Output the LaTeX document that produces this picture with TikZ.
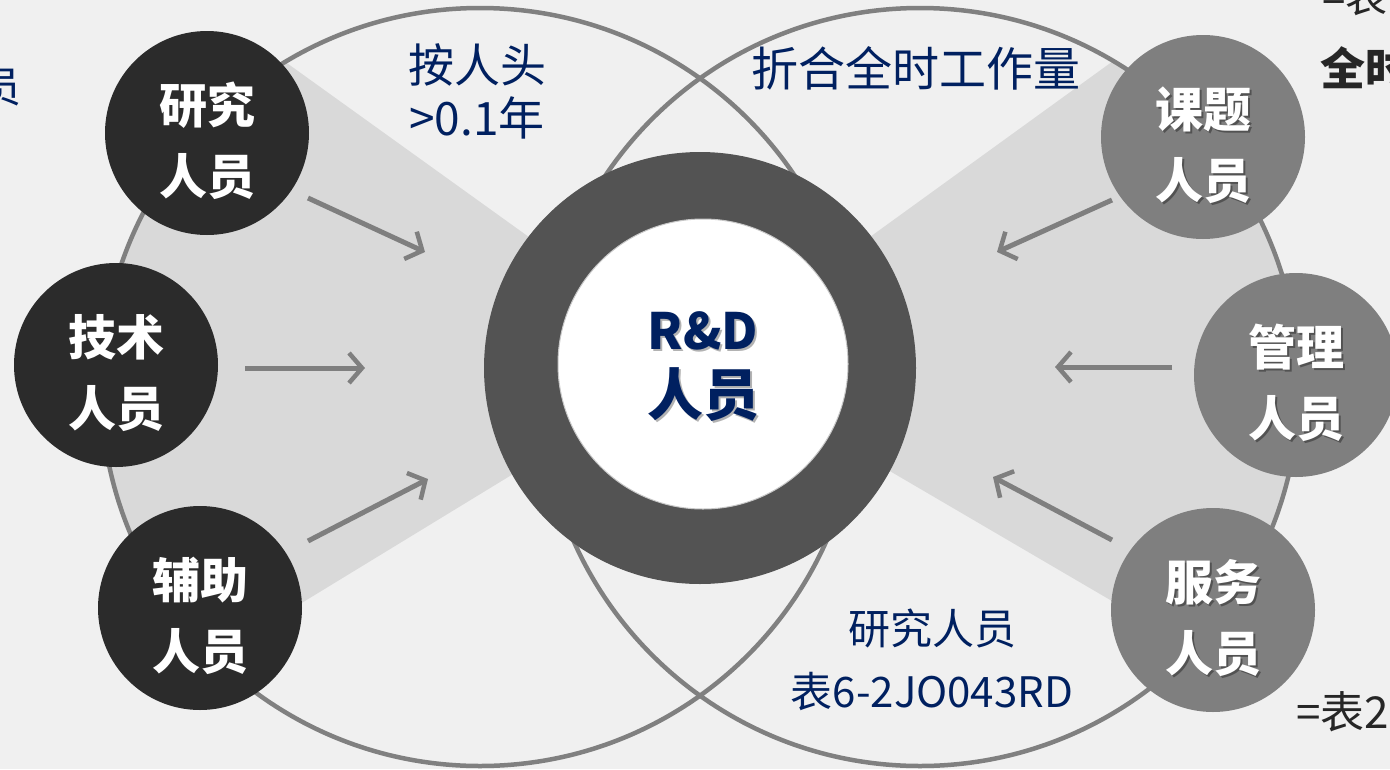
\documentclass[tikz,border=0pt]{standalone}
\usepackage{fontspec}
\newfontfamily\cjk{Noto Sans CJK SC}
\usetikzlibrary{arrows.meta}
\definecolor{bgc}{HTML}{F0F0F0}
\definecolor{wedgec}{HTML}{D9D9D9}
\definecolor{linec}{HTML}{808080}
\definecolor{darkc}{HTML}{2B2B2B}
\definecolor{grayc}{HTML}{7F7F7F}
\definecolor{ringc}{HTML}{535353}
\definecolor{navy}{HTML}{002060}
\definecolor{txtc}{HTML}{262626}
\tikzset{
  bigcirc/.style={draw=linec, line width=4.5pt},
  darkcirc/.style={circle, fill=darkc, minimum size=204pt, inner sep=0pt},
  graycirc/.style={circle, fill=grayc, minimum size=204pt, inner sep=0pt},
  ctext/.style={text=white, font=\cjk\bfseries\fontsize{48}{71}\selectfont, align=center, inner sep=0pt},
  shtext/.style={text=black, opacity=0.35, font=\cjk\bfseries\fontsize{48}{71}\selectfont, align=center, inner sep=0pt},
  arr/.style={draw=grayc, line width=5pt, -{Straight Barb[length=13pt,width=30pt,line width=4.5pt]}},
  lbl/.style={text=navy, inner sep=0pt},
  rdtext/.style={align=center, inner sep=0pt, font=\cjk\bfseries\fontsize{56}{66}\selectfont},
}
\begin{document}
\begin{tikzpicture}[x=1pt,y=-1pt]
\useasboundingbox (0,0) rectangle (1390,769);
\clip (0,0) rectangle (1390,769);
\fill[bgc] (0,0) rectangle (1390,769);
% wedges
\begin{scope}
  \clip (480,387) circle (379);
  \fill[wedgec] (700,360) -- (-100,-215) -- (-100,848) -- cycle;
\end{scope}
\begin{scope}
  \clip (920,387) circle (379);
  \fill[wedgec] (700,360) -- (1500,-219) -- (1500,828) -- cycle;
\end{scope}
% big outline circles
\draw[bigcirc] (480,387) circle (379);
\draw[bigcirc] (920,387) circle (379);
% arrows
\coordinate (l1s) at (308,198); \coordinate (l1e) at (425,252);
\coordinate (l2s) at (245,368); \coordinate (l2e) at (365,368);
\coordinate (l3s) at (308,541); \coordinate (l3e) at (428,479);
\coordinate (r1s) at (1112,200); \coordinate (r1e) at (997,252);
\coordinate (r2s) at (1172,367); \coordinate (r2e) at (1055,367);
\coordinate (r3s) at (1112,540); \coordinate (r3e) at (993,477);
\draw[arr] (l1s) -- (l1e);
\draw[arr] (l2s) -- (l2e);
\draw[arr] (l3s) -- (l3e);
\draw[arr] (r1s) -- (r1e);
\draw[arr] (r2s) -- (r2e);
\draw[arr] (r3s) -- (r3e);
% small circles
\node[darkcirc] (yj) at (207,133) {};
\node[darkcirc] (js) at (116,365) {};
\node[darkcirc] (fz) at (200,608) {};
\node[graycirc] (kt) at (1203,137) {};
\node[graycirc] (gl) at (1296,375) {};
\node[graycirc] (fw) at (1213,610) {};
\node[ctext] (yjt) at ([yshift=-8pt]yj.center) {研究\\人员};
\node[ctext] (jst) at ([yshift=-8pt]js.center) {技术\\人员};
\node[ctext] (fzt) at ([yshift=-8pt]fz.center) {辅助\\人员};
\node[shtext] at ([xshift=2pt,yshift=-10pt]kt.center) {课题\\人员};
\node[ctext] (ktt) at ([yshift=-8pt]kt.center) {课题\\人员};
\node[shtext] at ([xshift=2pt,yshift=-10pt]gl.center) {管理\\人员};
\node[ctext] (glt) at ([yshift=-8pt]gl.center) {管理\\人员};
\node[shtext] at ([xshift=2pt,yshift=-10pt]fw.center) {服务\\人员};
\node[ctext] (fwt) at ([yshift=-8pt]fw.center) {服务\\人员};
% centre ring
\node[circle, fill=ringc, minimum size=432pt, inner sep=0pt] (ring) at (700,368) {};
\node[circle, fill=white, draw=black!22, line width=1pt, minimum size=290pt, inner sep=0pt] (inner) at (703,364) {};
\node[rdtext, text=black, opacity=0.3] at (705,369)
  {{\fontsize{50}{66}\selectfont R\&D}\\人员};
\node[rdtext, text=navy] (rd) at (703,367)
  {{\fontsize{50}{66}\selectfont R\&D}\\人员};
% labels
\node[lbl, font=\cjk\fontsize{46}{50}\selectfont] (ar) at (477,65) {按人头};
\node[lbl, font=\cjk\fontsize{46}{50}\selectfont] (nian) at (477,118) {>0.1年};
\node[lbl, font=\cjk\fontsize{47}{50}\selectfont] (zh) at (916,68) {折合全时工作量};
\node[lbl, font=\cjk\fontsize{42}{50}\selectfont] (yjry) at (932,628) {研究人员};
\node[lbl, font=\cjk\fontsize{42}{50}\selectfont] (biao) at (932,692) {表6-2JO043RD};
% cut-off edge texts
\node[lbl, anchor=east, font=\cjk\fontsize{42}{50}\selectfont] (yuan) at (22,88) {员};
\node[text=txtc, anchor=west, inner sep=0pt, font=\cjk\fontsize{42}{50}\selectfont] (eqb) at (1322,-3) {=表};
\node[text=txtc, anchor=west, inner sep=0pt, font=\cjk\bfseries\fontsize{45}{50}\selectfont] (qs) at (1320,68) {全时};
\node[text=txtc, anchor=west, inner sep=0pt, font=\cjk\fontsize{44}{50}\selectfont] (eqb2) at (1296,712) {=表2};
\end{tikzpicture}
\end{document}
